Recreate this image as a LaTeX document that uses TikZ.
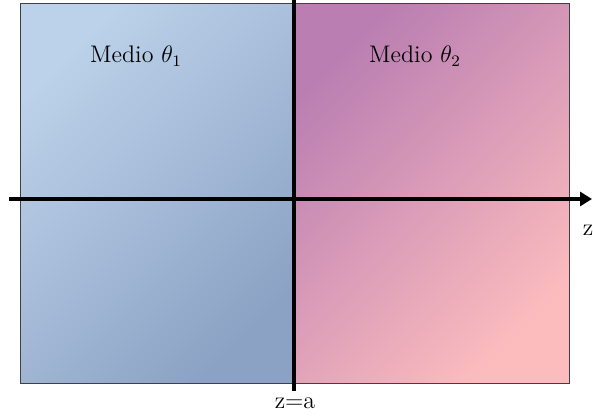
\documentclass[tikz,border=0pt]{standalone}
\usepackage{xcolor}
\usepackage{tikz}
\usetikzlibrary{arrows.meta, positioning, calc}

\definecolor{medioAtop}{RGB}{188,210,234}
\definecolor{medioAbot}{RGB}{140,162,196}
\definecolor{medioBtop}{RGB}{186,126,178}
\definecolor{medioBbot}{RGB}{252,188,190}

\tikzset{
	medio/.style={rectangle, draw=black!75, line width=0.5pt, inner sep=0pt},
	mediolbl/.style={font=\large, anchor=base, inner sep=0pt},
	axislbl/.style={font=\large, anchor=base, inner sep=0pt},
	axisarr/.style={-{Triangle[length=6pt, width=7pt]}, line width=2pt},
	wall/.style={line width=2pt},
}

\begin{document}
\begin{tikzpicture}[x=0.5pt, y=-0.5pt]
			\useasboundingbox (0,0) rectangle (593,416);
			% the two media
			\node[medio, top color=medioAtop, bottom color=medioAbot, shading angle=45,
				minimum width=137pt, minimum height=190pt, anchor=north west] (m1) at (20,3) {};
			\node[medio, top color=medioBtop, bottom color=medioBbot, shading angle=45,
				minimum width=137.5pt, minimum height=190pt, anchor=north west] (m2) at (294,3) {};
			
			\node[mediolbl] (lbl1) at (136,63) {Medio $\theta_1$};
			\node[mediolbl] (lbl2) at (415,63) {Medio $\theta_2$};
			
			% axis and interface
			\coordinate (zstart) at (9,199);
			\coordinate (zend) at (592,199);
			\coordinate (wtop) at (294,0);
			\coordinate (wbot) at (294,391);
			\draw[axisarr] (zstart) -- (zend);
			\draw[wall] (wtop) -- (wbot);
			
			\node[axislbl] (zlbl) at (588,236) {z};
			\node[axislbl] (alb) at (295,408) {z=a};
		\end{tikzpicture}
\end{document}
